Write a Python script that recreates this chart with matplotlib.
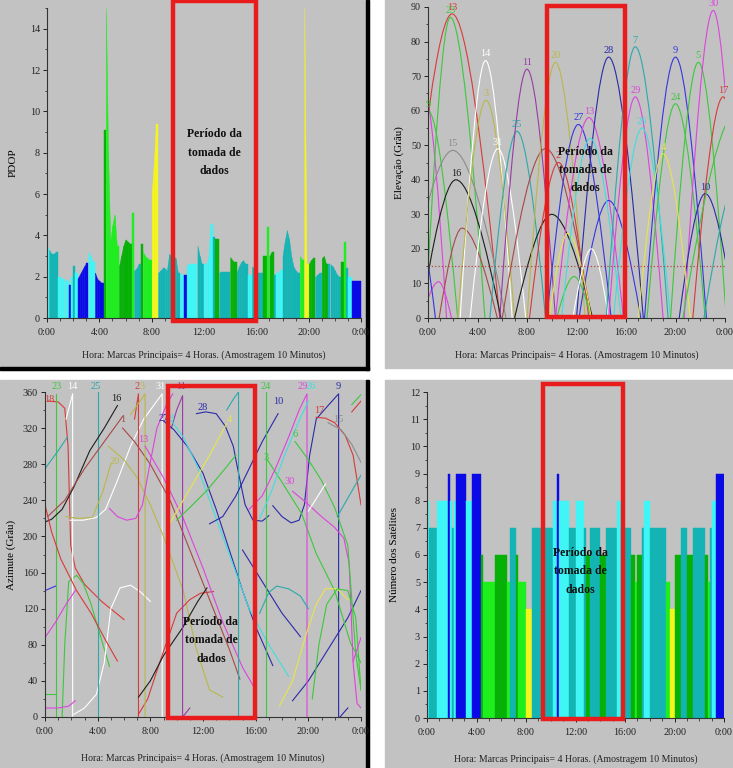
import matplotlib.pyplot as plt
from matplotlib.patches import Rectangle, PathPatch
from matplotlib.path import Path
from matplotlib.ticker import MultipleLocator

plt.rcParams['font.family'] = ['Liberation Serif', 'DejaVu Serif']

# ---------------------------------------------
# data (time in hours, 10 minute samples)
# ---------------------------------------------
STEP = 1 / 6
hour_ticks = [0, 4, 8, 12, 16, 20, 24]
hour_labels = ['0:00', '4:00', '8:00', '12:00', '16:00', '20:00', '0:00']
x_title = 'Hora: Marcas Principais= 4 Horas. (Amostragem 10 Minutos)'
box_text = 'Período da\ntomada de\ndados'

# number of visible satellites, one value per 10 minutes
n_sats = [8, 7, 7, 7, 7, 8, 8, 8, 8, 8, 9, 8, 7, 8, 9, 9, 9, 9, 9, 8, 8, 8,
          9, 9, 9, 9, 6, 5, 5, 5, 5, 5, 5, 6, 6, 6, 6, 6, 6, 5, 7, 7, 7, 6,
          5, 5, 5, 5, 4, 4, 4, 7, 7, 7, 7, 7, 7, 7, 7, 7, 7, 8, 8, 9, 8, 8,
          8, 8, 8, 7, 7, 7,
          8, 8, 8, 8, 7, 6, 6, 7, 7, 7, 7, 7, 6, 6, 6, 7, 7, 7, 7, 7, 8, 8,
          7, 7, 7, 7, 7, 6, 6, 5, 6, 6, 7, 8, 8, 8, 7, 7, 7, 7, 7, 7, 7, 7,
          5, 5, 4, 4, 6, 6, 6, 7, 7, 7, 6, 6, 6, 7, 7, 7, 7, 7, 7, 6, 5, 7,
          8, 8, 9, 9, 9, 9]

# PDOP, one value per 10 minutes (+ end point)
pdop = [3.4, 3.3, 3.1, 3.1, 3.2, 2.0, 2.0, 1.9, 1.9, 1.8, 1.6, 2.0, 2.5, 2.2,
        1.9, 2.1, 2.3, 2.5, 2.65, 3.2, 3.0, 2.7, 2.2, 1.9, 1.8, 1.7, 9.1,
        15.0, 8.0, 3.7, 4.5, 5.0, 3.5, 2.5, 3.0, 3.5, 3.8, 3.7, 3.6, 5.1,
        2.3, 2.4, 2.6, 3.6, 3.2, 3.0, 2.9, 2.8, 6.0, 7.5, 9.4, 2.2, 2.3, 2.4,
        2.4, 2.3, 3.1, 3.0, 2.9, 2.9, 2.2, 2.2, 2.1, 2.1, 2.5, 2.6, 2.6, 2.6,
        2.6, 3.5, 3.0, 2.6,
        2.6, 2.6, 2.9, 4.55, 3.9, 3.8, 3.8, 2.2, 2.25, 2.25, 2.25, 2.25, 2.95,
        2.8, 2.7, 2.2, 2.5, 2.7, 2.8, 2.6, 2.1, 2.1, 2.5, 2.4, 2.2, 2.2, 2.2,
        3.0, 3.0, 4.4, 3.0, 3.2, 2.1, 2.2, 2.2, 2.3, 3.0, 3.7, 4.25, 3.8, 3.0,
        2.5, 2.3, 2.2, 3.0, 2.8, 15.0, 2.6, 2.6, 2.8, 2.9, 2.0, 2.1, 2.2, 2.9,
        3.0, 2.6, 2.6, 2.6, 2.5, 2.3, 2.1, 2.0, 2.7, 3.7, 2.4, 2.0, 2.0, 1.8,
        1.8, 1.8, 1.8, 1.8]

sat_colors = {4: '#f5f51e', 5: '#1eee1e', 6: '#06b006', 7: '#14b4b4',
              8: '#3ff5f5', 9: '#0a0ae6'}

RED, GREEN, MAGENTA, PURPLE = '#d83a3a', '#3cc83c', '#dd44dd', '#9a3aa6'
NAVY, BLUE, TEAL, CYAN = '#2a2aa8', '#3535e0', '#2aaaaa', '#40dede'
WHITE, YELLOW, OLIVE, GREY = '#ffffff', '#e6e64a', '#b8b84a', '#8c8c8c'
BLACK, BROWN = '#1e1e1e', '#a84848'

# elevation passes: rise time, peak time, peak elevation, set time
el_rise = [-3.5, -3.0, -1.8, -0.2, -2.0, -0.6, 0.9, -0.5, -2.0, 2.6, 2.4,
           3.4, 5.0, 5.8, 6.0, 7.0, 8.0, 8.2, 9.6, 10.3, 12.0, 12.2, 10.4,
           11.7, 9.8, 10.8, 14.4, 14.6, 15.0, 17.5, 17.7, 19.6, 20.7, 21.4,
           20.3, 17.0, 20.6, 22.3]
el_peak_t = [-0.3, 0.0, 1.95, 1.8, 2.0, 2.25, 2.75, 0.85, -1.0, 4.65, 4.7,
             5.65, 7.2, 8.0, 9.5, 10.0, 10.3, 10.55, 12.15, 13.0, 14.6, 14.6,
             11.8, 13.2, 11.3, 13.1, 16.75, 16.75, 17.3, 20.0, 20.0, 21.85,
             23.05, 23.85, 22.4, 19.0, 25.0, 25.5]
el_peak = [65, 60, 88, 87, 48.5, 40, 26, 10.5, 30, 74.5, 63, 49, 54, 72, 49,
           30, 74, 45, 56, 58, 75.5, 34, 12, 20, 24.5, 52, 78.5, 64, 55, 75.5,
           62, 74, 89, 64, 36, 47.5, 60, 45]
el_set = [1.5, 2.4, 5.8, 4.6, 6.3, 5.9, 5.6, 1.9, 0.6, 6.8, 7.0, 7.9, 9.5,
          10.3, 13.2, 13.3, 12.7, 13.0, 14.8, 15.8, 17.4, 17.2, 13.2, 14.6,
          13.2, 15.6, 19.4, 19.0, 19.6, 22.5, 22.4, 24.1, 25.2, 26.0, 24.8,
          21.2, 28.0, 28.0]
el_label = ['', '9', '13', '23', '15', '16', '', '', '', '14', '3', '31', '25',
            '11', '1', '', '20', '2', '27', '13', '28', '', '', '', '', '',
            '7', '29', '26', '9', '24', '5', '30', '17', '10', '4', '', '']
el_color = [MAGENTA, GREEN, RED, GREEN, GREY, BLACK, BROWN, MAGENTA, BLUE,
            WHITE, OLIVE, WHITE, TEAL, PURPLE, BROWN, BLACK, OLIVE, RED, BLUE,
            MAGENTA, NAVY, BLUE, GREEN, WHITE, YELLOW, CYAN, TEAL, MAGENTA,
            CYAN, BLUE, GREEN, GREEN, MAGENTA, RED, NAVY, YELLOW, GREEN, TEAL]
mask_angle = 15

# azimuth tracks: colour, times, azimuths
az_tracks = [
    (RED, [0.2, 1.0, 1.5, 1.75, 1.95, 2.3, 3.0, 4.3, 6.0],
     [350, 349, 342, 300, 190, 165, 147, 128, 108]),
    (GREEN, [0.8, 0.8], [358, 0]),
    (GREEN, [0.0, 0.8], [25, 25]),
    (GREEN, [1.3, 1.5, 1.8, 2.4, 2.9, 3.5, 4.2, 4.9],
     [0, 80, 150, 157, 148, 125, 90, 56]),
    (WHITE, [1.6, 2.1, 2.1], [330, 358, 0]),
    (WHITE, [2.2, 3.0, 3.9, 4.5, 5.0, 5.7, 6.5, 7.3, 8.0],
     [3, 10, 25, 60, 120, 143, 146, 138, 128]),
    (WHITE, [1.9, 2.9, 3.9, 4.6, 5.5, 6.5, 7.5, 8.9, 8.9],
     [218, 218, 221, 230, 262, 300, 330, 358, 0]),
    (TEAL, [0.0, 1.0, 1.7], [275, 295, 310]),
    (TEAL, [4.0, 4.0], [360, 0]),
    (BLACK, [0.0, 0.5, 1.3, 2.2, 3.4, 4.5, 5.5],
     [216, 219, 230, 255, 295, 320, 345]),
    (BROWN, [0.2, 1.5, 3.0, 4.5, 5.9], [222, 240, 275, 305, 333]),
    (BROWN, [5.9, 6.8, 8.0, 9.5, 11.0, 12.5, 14.0, 14.8],
     [320, 305, 280, 240, 185, 130, 75, 42]),
    (RED, [0.0, 0.5, 1.2, 2.4, 3.5, 4.6, 5.5], [235, 205, 175, 140, 115, 85, 62]),
    (OLIVE, [1.6, 2.5, 3.6, 4.4, 5.0], [222, 220, 221, 250, 280]),
    (OLIVE, [4.8, 6.0, 7.0, 8.0, 9.0, 10.5, 11.5, 12.5, 13.5],
     [300, 285, 265, 235, 200, 140, 75, 30, 22]),
    (RED, [6.8, 7.1, 7.1], [330, 358, 0]),
    (RED, [7.1, 7.8, 8.7, 10.0, 11.0, 11.8, 12.8], [3, 20, 60, 115, 130, 137, 139]),
    (OLIVE, [6.5, 7.6, 7.6], [335, 358, 0]),
    (MAGENTA, [4.9, 5.5, 6.2, 6.9, 7.4, 7.9, 8.5, 9.2, 9.7],
     [231, 222, 218, 220, 235, 275, 320, 345, 358]),
    (MAGENTA, [7.6, 9.0, 10.5, 12.0, 13.5, 15.0, 15.8], [300, 265, 220, 165, 105, 55, 35]),
    (MAGENTA, [0.0, 1.0, 1.8, 2.3], [10, 10, 12, 18]),
    (MAGENTA, [0.0, 0.8, 1.6, 2.3], [88, 105, 125, 140]),
    (BLUE, [0.0, 0.8], [140, 145]),
    (BLACK, [7.1, 8.0, 9.0, 10.5, 11.6, 12.3], [22, 40, 68, 100, 128, 143]),
    (PURPLE, [9.6, 10.0, 10.45, 10.45, 11.0], [320, 340, 356, 0, 10]),
    (NAVY, [9.0, 9.8, 10.8, 12.0, 13.0, 14.0, 15.0, 16.0, 17.3],
     [328, 318, 300, 270, 230, 185, 140, 100, 57]),
    (CYAN, [9.6, 10.5, 11.5, 12.5, 13.5, 14.5, 15.5, 17.0, 18.5],
     [328, 310, 280, 240, 200, 160, 120, 80, 45]),
    (NAVY, [11.5, 12.2, 13.0, 13.7, 14.3, 14.7, 15.2, 15.8, 16.5, 17.0],
     [336, 338, 336, 322, 300, 270, 235, 218, 217, 223]),
    (YELLOW, [9.5, 10.5, 11.5, 12.5, 13.8], [215, 240, 265, 290, 325]),
    (GREEN, [10.0, 11.0, 12.3, 13.5, 14.5], [218, 232, 251, 272, 290]),
    (TEAL, [13.8, 14.3, 14.7, 14.7], [340, 352, 360, 0]),
    (NAVY, [12.5, 13.5, 14.5, 15.5, 16.5, 17.7], [214, 222, 245, 275, 305, 336]),
    (NAVY, [17.3, 18.0, 18.7, 19.3, 19.7, 20.1, 20.6, 21.5, 22.3, 22.3],
     [234, 222, 215, 218, 235, 290, 330, 345, 358, 0]),
    (NAVY, [18.8, 20.0, 21.5, 23.0, 24.0], [18, 40, 75, 110, 140]),
    (NAVY, [15.0, 16.5, 18.0, 19.4], [185, 150, 115, 89]),
    (GREEN, [16.8, 16.8], [360, 0]),
    (GREEN, [16.8, 18.0, 19.5, 20.6, 22.0, 23.2, 24.0],
     [287, 260, 225, 181, 140, 82, 60]),
    (MAGENTA, [15.5, 16.5, 17.5, 18.5, 19.3, 19.9, 19.9],
     [230, 245, 275, 310, 340, 358, 0]),
    (CYAN, [16.3, 17.2, 18.2, 19.2, 20.0], [220, 250, 290, 325, 350]),
    (RED, [20.6, 21.3, 22.0, 22.8, 23.4, 24.0], [332, 331, 326, 312, 290, 235]),
    (GREY, [21.5, 22.5, 23.3, 24.0], [326, 318, 302, 282]),
    (MAGENTA, [18.8, 19.8, 21.0, 22.0, 22.7, 23.1, 23.4, 23.7, 24.0],
     [250, 238, 222, 210, 198, 170, 60, 15, 10]),
    (GREEN, [19.0, 20.0, 21.0, 22.0, 23.0, 23.6, 24.0],
     [305, 285, 262, 232, 190, 70, 30]),
    (TEAL, [16.3, 17.0, 17.6, 18.5, 19.4, 20.0], [115, 138, 145, 142, 134, 120]),
    (YELLOW, [17.8, 18.8, 19.8, 20.6, 21.3, 22.2, 23.0],
     [12, 40, 90, 125, 142, 142, 130]),
    (GREEN, [20.3, 20.8, 21.4, 22.2, 23.0, 23.6, 24.0],
     [20, 80, 125, 142, 140, 110, 30]),
    (WHITE, [20.0, 21.3], [228, 258]),
    (TEAL, [22.2, 24.0], [222, 268]),
    (MAGENTA, [23.4, 24.0], [62, 88]),
    (GREEN, [23.3, 24.0], [346, 357]),
    (RED, [23.3, 24.0], [338, 350]),
    (NAVY, [22.4, 23.0], [0, 10]),
]

# azimuth labels: text, colour, time, azimuth
az_labels = [('18', RED, 0.35, 347), ('23', GREEN, 0.85, 361), ('14', WHITE, 2.05, 361),
             ('25', TEAL, 3.85, 361), ('16', BLACK, 5.4, 348), ('1', BROWN, 5.9, 324),
             ('20', OLIVE, 5.3, 278), ('2', RED, 7.0, 361), ('3', OLIVE, 7.4, 361),
             ('13', MAGENTA, 7.5, 302), ('31', WHITE, 8.75, 361), ('27', NAVY, 9.0, 326),
             ('8', CYAN, 9.55, 326), ('11', PURPLE, 10.3, 361), ('28', NAVY, 12.0, 338),
             ('4', YELLOW, 14.0, 324), ('24', GREEN, 16.8, 361), ('3', GREEN, 16.8, 283),
             ('10', NAVY, 17.7, 344), ('29', MAGENTA, 19.6, 361), ('26', CYAN, 20.2, 361),
             ('9', NAVY, 22.3, 361), ('17', RED, 20.8, 334), ('15', GREY, 22.3, 324),
             ('6', GREEN, 19.0, 308), ('30', MAGENTA, 18.6, 256)]

# data collection period and text position in each panel
box_start = [9.6, 9.6, 9.35, 9.4]
box_end = [16.0, 15.95, 15.95, 15.8]
box_low = [-0.15, 0.3, -1.0, -0.04]
box_high = [15.35, 90.4, 366.5, 12.3]
text_pos = [(12.8, 8.0), (12.7, 42.8), (12.6, 85), (12.4, 5.4)]

PANEL = '#c2c2c2'
W, H = 733, 768


# ---------------------------------------------
# common axis styling
# ---------------------------------------------
def make_axes(fig, left, top, right, bottom, pad):
    ax = fig.add_axes([left / W, 1 - bottom / H, (right - left) / W, (bottom - top) / H])
    ax.set_facecolor(PANEL)
    for side in ['top', 'right']:
        ax.spines[side].set_visible(False)
    for side in ['left', 'bottom']:
        ax.spines[side].set_color('#333333')
        ax.spines[side].set_linewidth(0.8)
    ax.set_xlim(0, 24)
    ax.set_xticks(hour_ticks)
    ax.set_xticklabels(hour_labels)
    ax.xaxis.set_minor_locator(MultipleLocator(1))
    ax.tick_params(which='major', direction='out', length=3, width=0.7,
                   colors='#222222', labelsize=7.3, pad=2)
    ax.tick_params(axis='x', which='major', pad=4.5)
    ax.tick_params(which='minor', direction='out', length=1.8, width=0.6, colors='#333333')
    ax.set_xlabel(x_title, fontsize=7, labelpad=pad, color='#222222')
    return ax


def period_box(ax, k):
    ax.add_patch(Rectangle((box_start[k], box_low[k]), box_end[k] - box_start[k],
                           box_high[k] - box_low[k], fill=False, edgecolor='#e81c1c',
                           linewidth=3.2, clip_on=False, zorder=6))
    ax.text(text_pos[k][0], text_pos[k][1], box_text, ha='center', va='center',
            fontsize=8.5, fontweight='bold', linespacing=1.7, color='#111111', zorder=7)


def pdop_chart(fig):
    ax = make_axes(fig, 47, 8, 361, 318, 9.5)
    for i, n in enumerate(n_sats):
        t0, t1 = i * STEP, (i + 1) * STEP
        nxt = n_sats[i + 1] if i + 1 < len(n_sats) else n
        y1 = pdop[i + 1] if nxt == n else pdop[i]
        ax.fill_between([t0, t1], [pdop[i], y1], 0, color=sat_colors[n],
                        linewidth=0.3, edgecolor=sat_colors[n])
    ax.set_ylim(0, 15)
    ax.yaxis.set_major_locator(MultipleLocator(2))
    ax.yaxis.set_minor_locator(MultipleLocator(1))
    ax.set_ylabel('PDOP', fontsize=8, labelpad=9)
    period_box(ax, 0)


def elevation_chart(fig):
    ax = make_axes(fig, 428, 7, 725, 318, 9.5)
    for r, pt, pe, s, lab, c in zip(el_rise, el_peak_t, el_peak, el_set, el_label, el_color):
        d1, d2 = pt - r, s - pt
        verts = [(r, 0), (r + 0.35 * d1, 0.55 * pe), (pt - 0.3 * d1, pe), (pt, pe),
                 (pt + 0.3 * d2, pe), (s - 0.35 * d2, 0.55 * pe), (s, 0)]
        codes = [Path.MOVETO] + [Path.CURVE4] * 6
        ax.add_patch(PathPatch(Path(verts, codes), fill=False, edgecolor=c, linewidth=0.8))
        if lab:
            ax.text(pt, pe + 0.6, lab, color=c, ha='center', va='bottom',
                    fontsize=7.5, clip_on=False)
    ax.axhline(mask_angle, color='#b04848', linestyle=':', linewidth=0.9)
    ax.set_ylim(0, 90)
    ax.yaxis.set_major_locator(MultipleLocator(10))
    ax.yaxis.set_minor_locator(MultipleLocator(5))
    ax.set_ylabel('Elevação (Grâu)', fontsize=8, labelpad=5)
    period_box(ax, 1)


def azimuth_chart(fig):
    ax = make_axes(fig, 45, 392, 361, 717, 12)
    for c, ts, az in az_tracks:
        ax.plot(ts, az, color=c, linewidth=0.8)
    for lab, c, t, a in az_labels:
        ax.text(t, a, lab, color=c, ha='center', va='bottom', fontsize=7.5, clip_on=False)
    ax.set_ylim(0, 360)
    ax.yaxis.set_major_locator(MultipleLocator(40))
    ax.yaxis.set_minor_locator(MultipleLocator(20))
    ax.set_ylabel('Azimute (Grâu)', fontsize=8, labelpad=5)
    period_box(ax, 2)


def satellites_chart(fig):
    ax = make_axes(fig, 427, 392, 724, 718, 12.5)
    times = [i * STEP for i in range(len(n_sats))]
    cols = [sat_colors[n] for n in n_sats]
    ax.bar(times, n_sats, width=STEP, align='edge', color=cols, edgecolor=cols, linewidth=0.3)
    ax.set_ylim(0, 12)
    ax.yaxis.set_major_locator(MultipleLocator(1))
    ax.yaxis.set_minor_locator(MultipleLocator(0.5))
    ax.set_ylabel('Número dos Satélites', fontsize=8, labelpad=8)
    period_box(ax, 3)


def main():
    fig = plt.figure(figsize=(W / 100, H / 100), dpi=100, facecolor='white')
    # grey panels behind each chart
    for x0, y0, x1, y1 in [(0, 0, 369, 370), (385, 0, 733, 368),
                           (0, 380, 369, 768), (385, 380, 733, 768)]:
        fig.add_artist(Rectangle((x0 / W, 1 - y1 / H), (x1 - x0) / W, (y1 - y0) / H,
                                 transform=fig.transFigure, color=PANEL, zorder=-5))
    for x0, y0, x1, y1 in [(366, 0, 369, 370), (0, 367, 369, 370), (366, 380, 369, 768)]:
        fig.add_artist(Rectangle((x0 / W, 1 - y1 / H), (x1 - x0) / W, (y1 - y0) / H,
                                 transform=fig.transFigure, color='black', zorder=-4))
    pdop_chart(fig)
    elevation_chart(fig)
    azimuth_chart(fig)
    satellites_chart(fig)
    fig.savefig('out.png', dpi=100, facecolor='white')


main()
